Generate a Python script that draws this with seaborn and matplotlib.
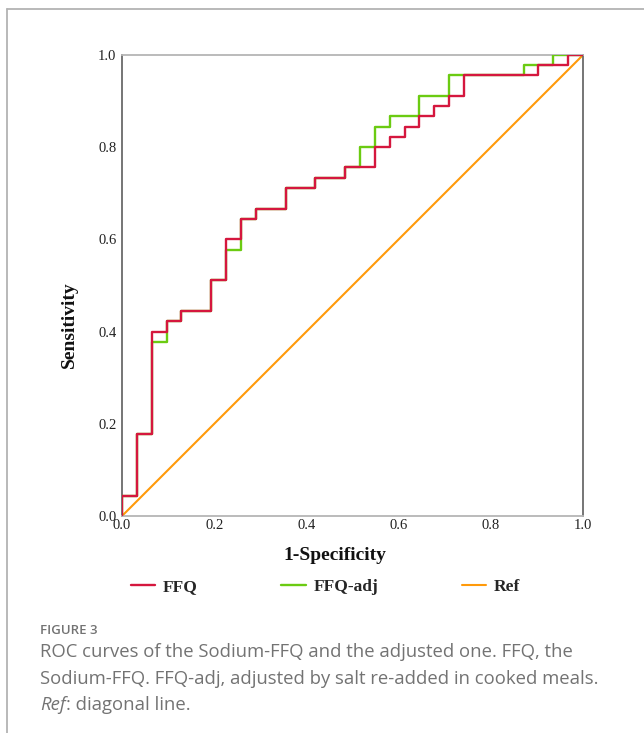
import matplotlib
matplotlib.use("Agg")
import matplotlib.pyplot as plt
from matplotlib.lines import Line2D
import seaborn as sns
import pandas as pd

# ROC corner points (1-specificity, sensitivity)
ffq_fpr = [0.0, 0.0, 0.032, 0.065, 0.097, 0.129, 0.194, 0.226, 0.258, 0.290, 0.355,
           0.419, 0.484, 0.548, 0.581, 0.613, 0.645, 0.677, 0.710, 0.742, 0.903, 0.968, 1.0]
ffq_tpr = [0.0, 0.044, 0.178, 0.400, 0.422, 0.444, 0.511, 0.600, 0.644, 0.667, 0.711,
           0.733, 0.756, 0.800, 0.822, 0.844, 0.867, 0.889, 0.911, 0.956, 0.978, 1.0, 1.0]

adj_fpr = [0.0, 0.0, 0.032, 0.065, 0.097, 0.129, 0.194, 0.226, 0.258, 0.290, 0.355,
           0.419, 0.484, 0.516, 0.548, 0.581, 0.645, 0.710, 0.871, 0.935, 1.0]
adj_tpr = [0.0, 0.044, 0.178, 0.378, 0.422, 0.444, 0.511, 0.578, 0.644, 0.667, 0.711,
           0.733, 0.756, 0.800, 0.844, 0.867, 0.911, 0.956, 0.978, 1.0, 1.0]

ref_x = [0.0, 1.0]
ref_y = [0.0, 1.0]

ticks = [0.0, 0.2, 0.4, 0.6, 0.8, 1.0]
tick_labels = ["0.0", "0.2", "0.4", "0.6", "0.8", "1.0"]

caption_title = "FIGURE 3"
caption_lines = ["ROC curves of the Sodium-FFQ and the adjusted one. FFQ, the",
                 "Sodium-FFQ. FFQ-adj, adjusted by salt re-added in cooked meals."]
caption_last_italic = "Ref"
caption_last_rest = ": diagonal line."

sns.set_theme(style="white")
plt.rcParams["font.family"] = ["Liberation Serif", "DejaVu Serif"]

ffq = pd.DataFrame({"fpr": ffq_fpr, "tpr": ffq_tpr})
adj = pd.DataFrame({"fpr": adj_fpr, "tpr": adj_tpr})
ref = pd.DataFrame({"fpr": ref_x, "tpr": ref_y})

fig = plt.figure(figsize=(6.44, 7.33), dpi=100)
ax = fig.add_axes([122 / 644, 217 / 733, 461 / 644, 461 / 733])

sns.lineplot(data=ref, x="fpr", y="tpr", ax=ax, color="#FF9A0A", lw=1.5,
             label="Ref", zorder=2)
sns.lineplot(data=adj, x="fpr", y="tpr", ax=ax, color="#6BCB12", lw=1.7,
             estimator=None, sort=False, drawstyle="steps-post",
             label="FFQ-adj", zorder=3)
sns.lineplot(data=ffq, x="fpr", y="tpr", ax=ax, color="#D5173E", lw=1.7,
             estimator=None, sort=False, drawstyle="steps-post",
             label="FFQ", zorder=4)

ax.set_xlim(0, 1)
ax.set_ylim(0, 1)
ax.set_xticks(ticks)
ax.set_xticklabels(tick_labels)
ax.set_yticks(ticks)
ax.set_yticklabels(tick_labels)
ax.tick_params(length=0, labelsize=10.5, colors="#222222")
ax.tick_params(axis="x", pad=2)
ax.tick_params(axis="y", pad=4)
ax.set_xlabel("")
ax.set_ylabel("")

for side in ["left", "right"]:
    ax.spines[side].set_color("#6a6a6a")
    ax.spines[side].set_linewidth(1.3)
for side in ["top", "bottom"]:
    ax.spines[side].set_color("#b5b5b5")
    ax.spines[side].set_linewidth(1.3)

fig.text(335 / 644, 1 - 556 / 733, "1-Specificity", ha="center", va="center",
         fontsize=14, fontweight="bold", color="#111111")
fig.text(69 / 644, 1 - 325 / 733, "Sensitivity", ha="center", va="center",
         rotation=90, fontsize=14, fontweight="bold", color="#111111")

handles, labels = ax.get_legend_handles_labels()
order = [labels.index("FFQ"), labels.index("FFQ-adj"), labels.index("Ref")]
ax.get_legend().remove()
fig.legend([handles[i] for i in order], [labels[i] for i in order],
           loc="center left", bbox_to_anchor=(124 / 644, 1 - 587 / 733),
           ncol=3, frameon=False, handlelength=1.4, handletextpad=0.45,
           columnspacing=4.8, borderaxespad=0,
           prop={"family": "Liberation Serif", "weight": "bold", "size": 12.5})

# card frame
fig.add_artist(Line2D([7 / 644, 1], [1 - 9 / 733, 1 - 9 / 733], color="#b3b3b3", lw=1.3))
fig.add_artist(Line2D([7 / 644, 7 / 644], [0, 1 - 9 / 733], color="#b3b3b3", lw=1.3))

cap_font = ["Open Sans", "DejaVu Sans"]
cap_size = 13.3
cap_color = "#737373"
fig.text(40 / 644, 1 - 630 / 733, caption_title, ha="left", va="center",
         fontsize=9.5, fontweight="semibold", color=cap_color, family=cap_font)
fig.text(40 / 644, 1 - 652 / 733, caption_lines[0], ha="left", va="center",
         fontsize=cap_size, color=cap_color, family=cap_font)
fig.text(40 / 644, 1 - 679 / 733, caption_lines[1], ha="left", va="center",
         fontsize=cap_size, color=cap_color, family=cap_font)
t = fig.text(40 / 644, 1 - 705 / 733, caption_last_italic, ha="left", va="center",
             fontsize=cap_size, color=cap_color, family=cap_font, style="italic")
fig.canvas.draw()
bb = t.get_window_extent()
fig.text(bb.x1 / fig.bbox.width, 1 - 705 / 733, caption_last_rest, ha="left", va="center",
         fontsize=cap_size, color=cap_color, family=cap_font)

fig.savefig("out.png", dpi=100, facecolor="white")
